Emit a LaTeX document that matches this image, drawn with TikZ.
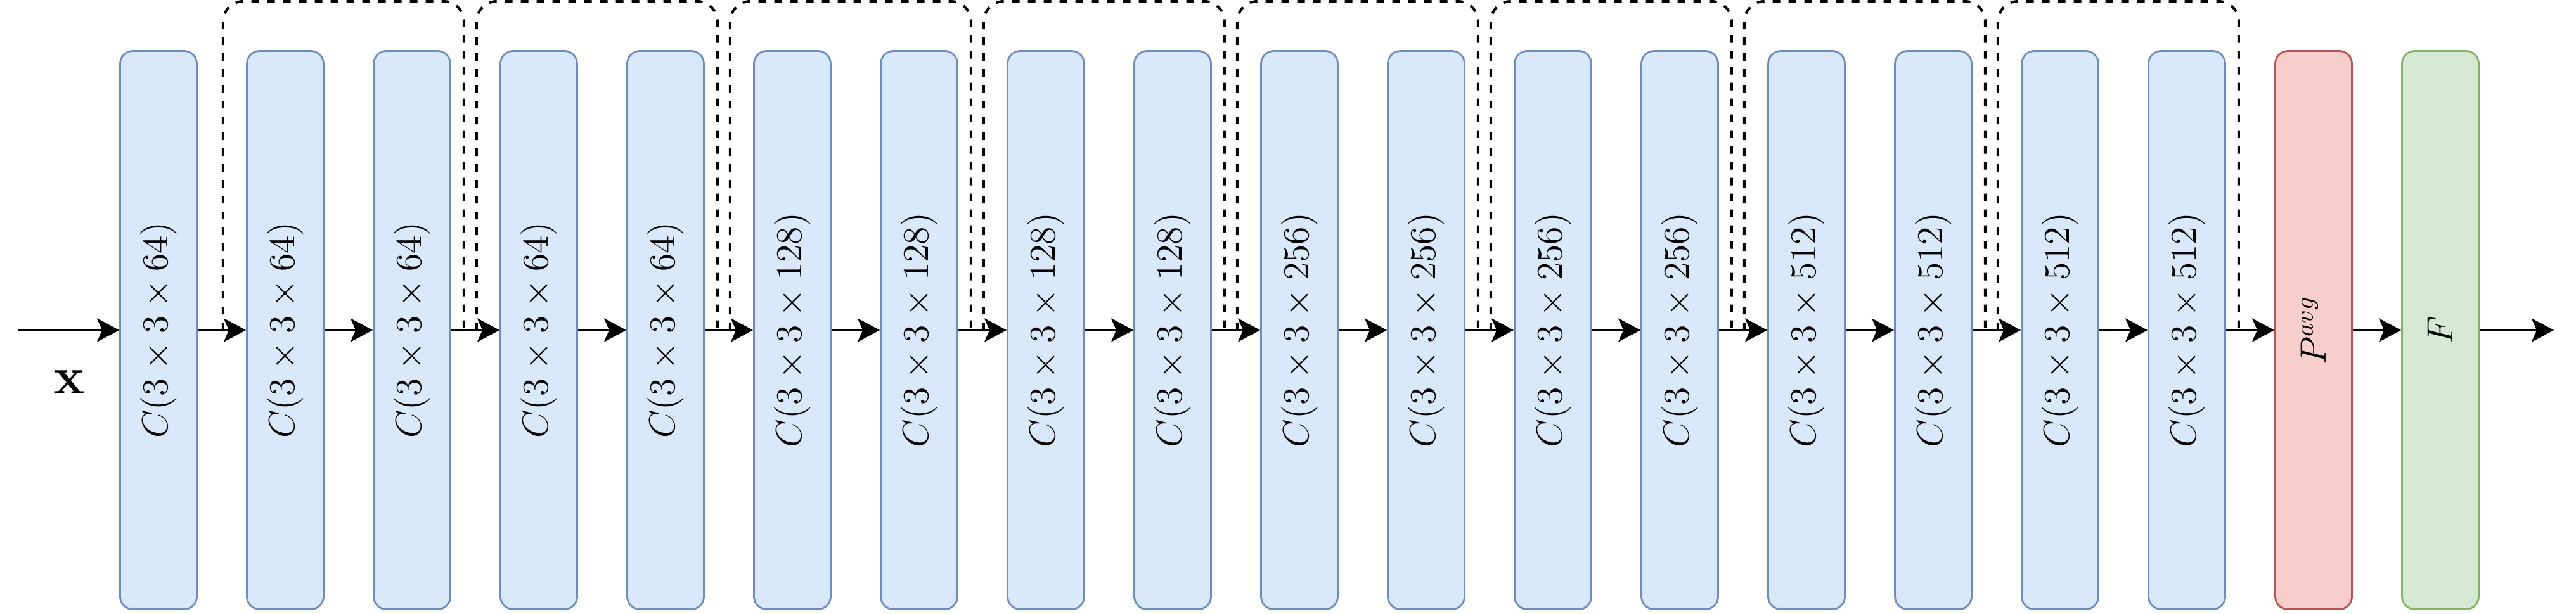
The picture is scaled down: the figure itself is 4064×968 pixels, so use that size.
\documentclass[tikz,border=0pt]{standalone}
\usetikzlibrary{arrows.meta,calc}
\definecolor{bluefill}{HTML}{DAE8FC}
\definecolor{blueline}{HTML}{6C8EBF}
\definecolor{redfill}{HTML}{F8CECC}
\definecolor{redline}{HTML}{B85450}
\definecolor{greenfill}{HTML}{D5E8D4}
\definecolor{greenline}{HTML}{82B366}
\begin{document}
\begin{tikzpicture}[x=0.25pt,y=0.25pt,
  layer/.style={rounded corners=5pt, line width=0.7pt, minimum width=30.25pt,
    minimum height=220.25pt, inner sep=0pt, font=\fontsize{14}{17}\selectfont},
  convbox/.style={layer, draw=blueline, fill=bluefill},
  poolbox/.style={layer, draw=redline, fill=redfill},
  fcbox/.style={layer, draw=greenline, fill=greenfill},
  arr/.style={line width=1pt, -{Stealth[length=8.75pt, width=9.25pt, inset=2pt]}},
  skip/.style={line width=1pt, dash pattern=on 3pt off 3.25pt, rounded corners=8pt}]
\useasboundingbox (0,0) rectangle (4064,968);
\newcommand{\cl}[1]{\rotatebox{90}{$C(3\times 3\times #1)$}}
\node[convbox] (c1)  at (250,447)  {\cl{64}};
\node[convbox] (c2)  at (450,447)  {\cl{64}};
\node[convbox] (c3)  at (650,447)  {\cl{64}};
\node[convbox] (c4)  at (850,447)  {\cl{64}};
\node[convbox] (c5)  at (1050,447) {\cl{64}};
\node[convbox] (c6)  at (1250,447) {\cl{128}};
\node[convbox] (c7)  at (1450,447) {\cl{128}};
\node[convbox] (c8)  at (1650,447) {\cl{128}};
\node[convbox] (c9)  at (1850,447) {\cl{128}};
\node[convbox] (c10) at (2050,447) {\cl{256}};
\node[convbox] (c11) at (2250,447) {\cl{256}};
\node[convbox] (c12) at (2450,447) {\cl{256}};
\node[convbox] (c13) at (2650,447) {\cl{256}};
\node[convbox] (c14) at (2850,447) {\cl{512}};
\node[convbox] (c15) at (3050,447) {\cl{512}};
\node[convbox] (c16) at (3250,447) {\cl{512}};
\node[convbox] (c17) at (3450,447) {\cl{512}};
\node[poolbox] (pool) at (3650,447) {\rotatebox{90}{$P^{avg}$}};
\node[fcbox]   (fc)   at (3850,447) {\rotatebox{90}{$F$}};
\node[font=\fontsize{21}{24}\selectfont] (xlab) at (109,365) {$\mathbf{x}$};
\coordinate (in) at (29,447);
\coordinate (out) at (4029,447);
\coordinate (top) at (0,966);
\draw[arr] (in) -- (c1.west);
\foreach \a/\b in {c1/c2,c2/c3,c3/c4,c4/c5,c5/c6,c6/c7,c7/c8,c8/c9,c9/c10,c10/c11,
  c11/c12,c12/c13,c13/c14,c14/c15,c15/c16,c16/c17,c17/pool,pool/fc}
  \draw[arr] (\a.east) -- (\b.west);
\draw[arr] (fc.east) -- (out);
\foreach \a/\b in {c1/c3,c3/c5,c5/c7,c7/c9,c9/c11,c11/c13,c13/c15,c15/c17}{
  \coordinate (s) at ($(\a.east)+(40,0)$);
  \coordinate (e) at ($(\b.east)+(20,0)$);
  \draw[skip] (s) -- (s |- top) -- (e |- top) -- (e);
}
\end{tikzpicture}
\end{document}
